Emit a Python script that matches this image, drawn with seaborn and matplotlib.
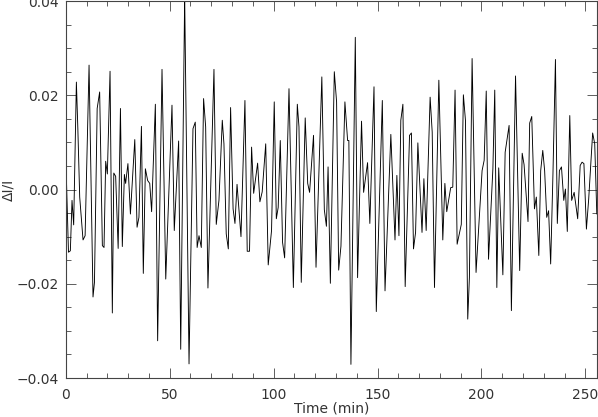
import numpy as np
import pandas as pd
import matplotlib
matplotlib.use("Agg")
import matplotlib.pyplot as plt
import seaborn as sns
from matplotlib.ticker import MultipleLocator, FuncFormatter

# ======================================
# DATA (vertex by vertex)
time_min = [
    0.0, 1.3, 2.2, 3.0, 3.8, 5.1, 5.8, 6.7, 8.3, 9.3,
    11.2, 13.1, 13.8, 15.1, 16.3, 17.6, 18.4, 19.2, 20.0, 21.3,
    22.4, 23.1, 24.0, 25.2, 26.3, 27.2, 28.2, 28.8, 29.9, 31.1,
    33.2, 34.3, 35.2, 36.4, 37.3, 38.3, 39.4, 40.4, 41.3, 43.1,
    44.2, 46.3, 48.1, 51.1, 52.2, 54.3, 55.3, 57.2, 59.3, 61.2,
    62.3, 63.2, 64.1, 65.2, 66.3, 67.3, 68.4, 71.3, 72.4, 73.7,
    75.3, 76.1, 77.2, 78.2, 79.3, 80.5, 81.4, 82.4, 84.3, 86.2,
    87.3, 88.4, 89.4, 90.4, 92.3, 93.4, 94.5, 96.2, 97.4, 99.0,
    100.3, 101.3, 102.2, 103.2, 104.3, 105.3, 107.4, 109.5, 111.4, 112.2,
    113.3, 115.2, 116.4, 117.3, 119.2, 120.4, 123.2, 124.4, 125.4, 126.2,
    127.3, 129.2, 130.3, 131.3, 132.4, 134.3, 135.6, 136.2, 137.2, 139.3,
    140.4, 142.3, 143.3, 145.2, 146.3, 148.3, 149.4, 152.3, 153.6, 156.4,
    158.4, 159.3, 160.3, 161.2, 162.2, 163.3, 165.4, 166.3, 167.3, 168.3,
    169.4, 171.4, 172.3, 173.4, 175.3, 176.3, 177.4, 179.5, 181.4, 182.4,
    183.3, 185.2, 186.2, 187.3, 188.3, 190.3, 191.3, 192.3, 193.4, 194.2,
    195.5, 197.4, 200.3, 201.3, 202.3, 203.4, 205.5, 206.4, 207.4, 208.3,
    210.3, 211.4, 213.3, 214.4, 216.4, 218.4, 219.6, 220.5, 222.4, 223.2,
    224.2, 225.5, 226.4, 227.6, 228.5, 229.5, 230.4, 231.4, 232.3, 233.3,
    234.4, 235.6, 236.5, 237.5, 238.5, 239.6, 240.4, 241.3, 242.5, 243.4,
    244.6, 246.3, 247.5, 248.4, 249.3, 250.5, 251.6, 253.5, 254.5, 255.5,
]
delta_i = [
    0.0070, -0.0133, -0.0130, -0.0023, -0.0075, 0.0228, 0.0130, -0.0016, -0.0107, -0.0098,
    0.0264, -0.0228, -0.0197, 0.0172, 0.0207, -0.0119, -0.0123, 0.0060, 0.0033, 0.0251,
    -0.0262, 0.0035, 0.0028, -0.0125, 0.0172, -0.0121, 0.0032, 0.0013, 0.0055, -0.0052,
    0.0106, -0.0080, -0.0059, 0.0134, -0.0178, 0.0044, 0.0019, 0.0013, -0.0047, 0.0181,
    -0.0321, 0.0255, -0.0190, 0.0179, -0.0087, 0.0103, -0.0339, 0.0410, -0.0370, 0.0129,
    0.0143, -0.0123, -0.0098, -0.0123, 0.0193, 0.0133, -0.0209, 0.0255, -0.0074, -0.0023,
    0.0147, 0.0097, -0.0094, -0.0126, 0.0174, -0.0041, -0.0072, 0.0011, -0.0100, 0.0189,
    -0.0131, -0.0131, 0.0090, -0.0008, 0.0056, -0.0026, -0.0005, 0.0097, -0.0160, -0.0087,
    0.0186, -0.0062, -0.0038, 0.0104, -0.0112, -0.0145, 0.0214, -0.0208, 0.0181, 0.0133,
    -0.0197, 0.0152, 0.0013, -0.0006, 0.0115, -0.0165, 0.0239, -0.0043, -0.0078, 0.0048,
    -0.0199, 0.0250, 0.0186, -0.0171, -0.0120, 0.0186, 0.0104, 0.0104, -0.0371, 0.0323,
    -0.0187, 0.0145, -0.0006, 0.0057, -0.0072, 0.0218, -0.0259, 0.0189, -0.0215, 0.0117,
    -0.0107, 0.0030, -0.0098, 0.0147, 0.0181, -0.0206, 0.0115, 0.0120, -0.0126, -0.0091,
    0.0099, -0.0091, 0.0023, -0.0087, 0.0196, 0.0122, -0.0208, 0.0232, -0.0107, 0.0013,
    -0.0047, 0.0004, 0.0005, 0.0211, -0.0116, -0.0074, 0.0201, 0.0147, -0.0275, -0.0187,
    0.0278, -0.0176, 0.0040, 0.0062, 0.0209, -0.0148, 0.0044, 0.0211, -0.0208, 0.0046,
    -0.0181, 0.0079, 0.0136, -0.0257, 0.0241, -0.0172, 0.0077, 0.0053, -0.0068, 0.0141,
    0.0155, -0.0041, -0.0016, -0.0140, 0.0040, 0.0083, 0.0040, -0.0059, -0.0045, -0.0158,
    0.0033, 0.0276, -0.0072, 0.0040, 0.0048, -0.0023, 0.0001, -0.0089, 0.0157, -0.0023,
    -0.0006, -0.0062, 0.0051, 0.0058, 0.0055, -0.0084, -0.0020, 0.0120, 0.0097, -0.0052,
]

df = pd.DataFrame({"time": time_min, "dI": delta_i})

# ======================================
# PLOT
sns.set_style("ticks")
plt.rcParams['font.family'] = ['DejaVu Sans']

fig = plt.figure(figsize=(5.98, 4.17), dpi=100)
ax = fig.add_axes([0.110, 0.0935, 0.888, 0.904])

sns.lineplot(data=df, x="time", y="dI", color="black", linewidth=0.65,
             sort=False, estimator=None, ax=ax)

ax.set_xlim(0, 255.5)
ax.set_ylim(-0.04, 0.04)

ax.xaxis.set_major_locator(MultipleLocator(50))
ax.xaxis.set_minor_locator(MultipleLocator(10))
ax.yaxis.set_major_locator(MultipleLocator(0.02))
ax.yaxis.set_minor_locator(MultipleLocator(0.005))
ax.yaxis.set_major_formatter(FuncFormatter(lambda v, p: f"{v:.2f}".replace("-", "\u2212")))

ax.tick_params(which="both", direction="in", top=True, right=True,
               width=0.6, colors="#444444", labelcolor="#333333", labelsize=10)
ax.tick_params(which="major", length=7)
ax.tick_params(which="minor", length=3.5)
ax.tick_params(axis="x", pad=7)
ax.tick_params(axis="y", pad=5)

for s in ax.spines.values():
    s.set_linewidth(0.8)
    s.set_color("#444444")

ax.set_xlabel("Time (min)", fontsize=10, color="#333333", labelpad=0)
ax.set_ylabel("\u0394I/I", fontsize=10, color="#333333", labelpad=1)

fig.savefig("out.png", dpi=100)
